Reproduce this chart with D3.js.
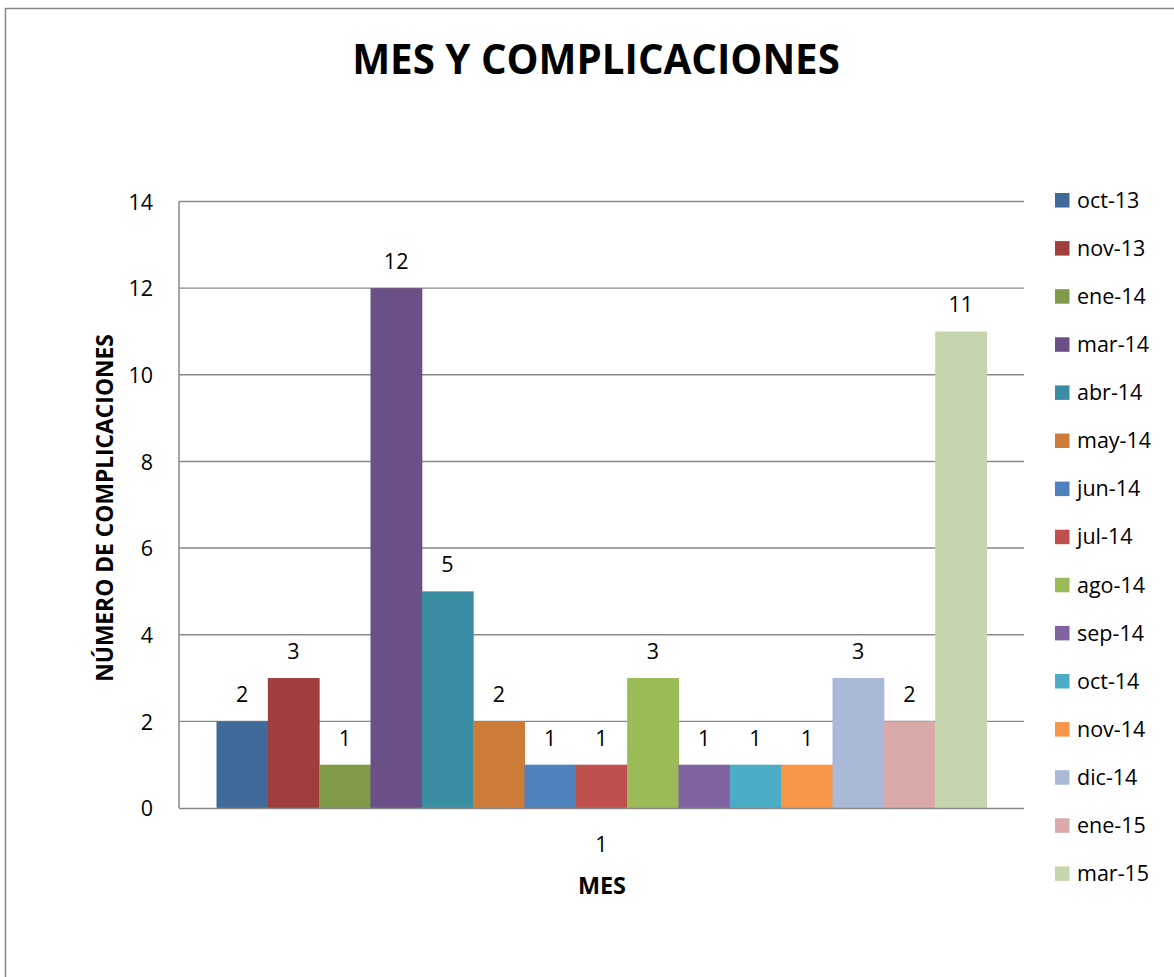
<!DOCTYPE html>
<html><head><meta charset="utf-8">
<script src="https://cdn.jsdelivr.net/npm/d3@7"></script>
<style>body{margin:0;background:#fff}svg{display:block}text{font-family:"Open Sans",sans-serif}</style>
</head><body><svg id="c" width="1174" height="977"></svg>
<script>
const categories = ["1"];
const seriesNames = ["oct-13","nov-13","ene-14","mar-14","abr-14","may-14","jun-14","jul-14","ago-14","sep-14","oct-14","nov-14","dic-14","ene-15","mar-15"];
const seriesValues = [2,3,1,12,5,2,1,1,3,1,1,1,3,2,11];
const seriesColors = ["#3F6A9A","#9E3F3D","#7F9A48","#6A5086","#3B8DA3","#CC7B38","#4F81BD","#C0504D","#9BBB59","#8064A2","#4BACC6","#F79646","#AAB9D7","#D9AAA9","#C6D6AC"];
const yTicks = [0,2,4,6,8,10,12,14];
const title = "MES Y COMPLICACIONES";
const yTitle = "NÚMERO DE COMPLICACIONES";
const xTitle = "MES";

const svg = d3.select("#c");
svg.append("rect").attr("x",5.5).attr("y",8.5).attr("width",1200).attr("height",1000)
  .attr("fill","#fff").attr("stroke","#868686").attr("stroke-width",1.5);

const L=179, R=1024, T=201.5, B=808;
const FS = 21.5;
const y = d3.scaleLinear().domain([0,14]).range([B,T]);
const x0 = d3.scaleBand().domain(categories).range([L,R]).padding(0);
const pad = 37.5;
const x1 = d3.scaleBand().domain(seriesNames).range([pad,x0.bandwidth()-pad]);

// fit text to width helper
function fit(sel, target){
  const w = sel.node().getComputedTextLength();
  const fs = parseFloat(sel.attr("font-size"));
  sel.attr("font-size", fs*target/w);
}

// gridlines
svg.append("g").selectAll("line").data(yTicks.filter(d=>d>0)).join("line")
  .attr("x1",L).attr("x2",R).attr("y1",d=>y(d)).attr("y2",d=>y(d))
  .attr("stroke","#898989").attr("stroke-width",1.4);

// y axis
const ya = svg.append("g").attr("transform",`translate(${L},0)`)
  .call(d3.axisLeft(y).tickValues(yTicks).tickSize(0).tickPadding(26).tickFormat(d3.format("d")));
ya.select(".domain").remove();
ya.selectAll("text").attr("font-size",FS).attr("fill","#000").attr("font-family","Open Sans").attr("dy","0.36em");

// bars
const g = svg.append("g").attr("transform",`translate(${x0(categories[0])},0)`);
g.selectAll("rect").data(seriesValues).join("rect")
  .attr("x",(d,i)=>x1(seriesNames[i])).attr("width",x1.bandwidth()+0.5)
  .attr("y",d=>y(d)).attr("height",d=>B-y(d)).attr("fill",(d,i)=>seriesColors[i]);
g.selectAll("text").data(seriesValues).join("text")
  .attr("x",(d,i)=>x1(seriesNames[i])+x1.bandwidth()/2).attr("y",d=>y(d)-19)
  .attr("text-anchor","middle").attr("font-size",FS).attr("fill","#000").text(d=>d);

// axis lines
svg.append("line").attr("x1",L).attr("x2",L).attr("y1",T).attr("y2",B).attr("stroke","#898989").attr("stroke-width",1.5);
svg.append("line").attr("x1",L).attr("x2",R).attr("y1",B+0.5).attr("y2",B+0.5).attr("stroke","#898989").attr("stroke-width",1.6);

// x category label
svg.append("g").selectAll("text").data(categories).join("text")
  .attr("x",d=>x0(d)+x0.bandwidth()/2).attr("y",852).attr("text-anchor","middle")
  .attr("font-size",FS).text(d=>d);

// titles
fit(svg.append("text").attr("x",596).attr("y",73.5).attr("text-anchor","middle")
  .attr("font-size",40).attr("font-weight","bold").text(title), 488);
fit(svg.append("text").attr("x",602).attr("y",894).attr("text-anchor","middle")
  .attr("font-size",20).attr("font-weight","bold").text(xTitle), 48);
fit(svg.append("text").attr("transform","translate(113,508) rotate(-90)").attr("text-anchor","middle")
  .attr("font-size",20).attr("font-weight","bold").text(yTitle), 348);

// legend
const lg = svg.append("g").selectAll("g").data(seriesNames).join("g")
  .attr("transform",(d,i)=>`translate(1055,${200+i*48.1})`);
lg.append("rect").attr("x",0).attr("y",-7).attr("width",14.5).attr("height",14.5).attr("fill",(d,i)=>seriesColors[i]);
lg.append("text").attr("x",22).attr("y",0).attr("dy","0.36em").attr("font-size",FS).text(d=>d);
</script></body></html>
